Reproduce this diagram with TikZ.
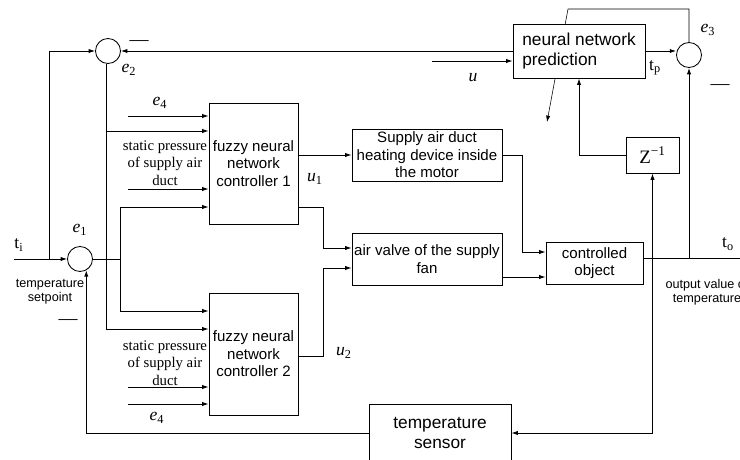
\documentclass[tikz,border=0pt]{standalone}
\usepackage{fontspec}
\setmainfont{Liberation Serif}
\newfontfamily\arialfont{Liberation Sans}
\usetikzlibrary{arrows.meta, positioning, backgrounds}

\begin{document}
\begin{tikzpicture}[x=0.025cm,y=-0.025cm,>={Latex[length=4.5pt,width=3pt]},line width=0.6pt,
  block/.style={draw,rectangle,fill=white,inner sep=0pt,align=center,
    font=\arialfont\fontsize{10.7}{12.4}\selectfont},
  bigblock/.style={block,font=\arialfont\fontsize{12.3}{14.6}\selectfont},
  sum/.style={draw,circle,fill=white,minimum size=0.625cm,inner sep=0pt},
  sig/.style={inner sep=0pt,font=\fontsize{12.5}{14}\selectfont},
  note/.style={align=center,inner sep=0pt,font=\fontsize{10.5}{12.45}\selectfont},
  small/.style={align=center,inner sep=0pt,font=\arialfont\fontsize{9}{10}\selectfont},
  minus/.style={inner sep=0pt,font=\fontsize{13.5}{14}\selectfont}]
\useasboundingbox (0,0) rectangle (740,459);

% define the summing points
  \node[sum] (e2) at (108,51) {};
  \node[sum] (e1) at (80,259) {};
  \node[sum] (e3) at (689,55) {};

% define the blocks
  \node[bigblock,align=left,minimum width=3.3cm,minimum height=1.35cm] (nnp) at (579,51)
{neural network\\prediction};
  \node[block,minimum width=2.225cm,minimum height=3.025cm] (fnc1) at (253.5,163.5)
{fuzzy neural\\network\\controller 1};
  \node[block,minimum width=2.225cm,minimum height=3.05cm] (fnc2) at (253.5,354)
{fuzzy neural\\network\\controller 2};
  \node[block,minimum width=3.75cm,minimum height=1.3cm] (heat) at (427,155)
{Supply air duct\\heating device inside\\the motor};
  \node[block,minimum width=3.75cm,minimum height=1.3cm] (valve) at (427,259)
{air valve of the supply\\fan};
  \node[block,minimum width=2.425cm,minimum height=1.05cm] (plant) at (594.5,263)
{controlled\\object};
  \node[draw,fill=white,minimum width=1.325cm,minimum height=0.9cm,font=\fontsize{13.5}{15}\selectfont] (zinv) at (652.5,155)
{Z\textsuperscript{−1}};
  \node[bigblock,minimum width=3.55cm,minimum height=1.45cm] (sensor) at (440,433)
{temperature\\sensor};

% free ends
  \coordinate (ti) at (14,259);
  \coordinate (tisplit) at (49,259);
  \coordinate (e1split) at (120,259);
  \coordinate (uin) at (432,61);
  \coordinate (out) at (745,258);
  \coordinate (adapttop) at (568,9);
  \coordinate (adaptend) at (547,122);
  \coordinate (e4a) at (128,116);
  \coordinate (spa) at (128,189);
  \coordinate (spb) at (128,387);
  \coordinate (e4b) at (128,404);

% define the links
  \draw[->] (ti) -- (e1.west);
  \draw[->] (tisplit) |- (e2.west);
  \draw[->] (nnp.west) -- (e2.east);
  \draw[->] (uin) -- (uin -| nnp.west);
  \draw[->] (nnp.east) -- (nnp.east -| e3.west);
  \draw[->] (e2.-99) |- (fnc2.west |- 0,329);
  \draw[->] (e2.-99 |- 0,131) -- (fnc1.west |- 0,131);
  \draw[->] (e1.east) -| (e1split |- 0,207) -- (fnc1.west |- 0,207);
  \draw[->] (e1split) |- (fnc2.west |- 0,311);
  \draw[->] (e4a) -- (e4a -| fnc1.west);
  \draw[->] (spa) -- (spa -| fnc1.west);
  \draw[->] (spb) -- (spb -| fnc2.west);
  \draw[->] (e4b) -- (e4b -| fnc2.west);
  \draw[->] (fnc1.east |- heat) -- (heat.west);
  \draw[->] (fnc1.east |- 0,207) -| (323,248) -- (valve.west |- 0,248);
  \draw[->] (fnc2.east |- 0,356) -| (323,268) -- (valve.west |- 0,268);
  \draw[->] (heat.east) -| (522,252) -- (plant.west |- 0,252);
  \draw[->] (valve.east |- 0,277) -- (plant.west |- 0,277);
  \draw (plant.east |- out) -- (out);
  \draw[->] (e3.south |- out) -- (e3.south);
  \draw[->] (zinv.south |- sensor.east) -- (zinv.south);
  \draw[->] (zinv.south |- sensor.east) -- (sensor.east);
  \draw[->] (zinv.west) -| (nnp.south);
  \draw[->] (sensor.west) -| (e1.-61);
  \begin{scope}[on background layer]
    \draw[->] (e3.north) |- (adapttop) -- (adaptend);
  \end{scope}

% define the labels
  \node[sig] (le2) at (129,70) {\textit{e}\textsubscript{2}};
  \node[sig] (le1) at (80,230) {\textit{e}\textsubscript{1}};
  \node[sig] (le3) at (708,30) {\textit{e}\textsubscript{3}};
  \node[sig] (le4a) at (160,103) {\textit{e}\textsubscript{4}};
  \node[sig] (le4b) at (157,418) {\textit{e}\textsubscript{4}};
  \node[sig] (lu) at (473,78) {\textit{u}};
  \node[sig] (lu1) at (315,179) {\textit{u}\textsubscript{1}};
  \node[sig] (lu2) at (344,353) {\textit{u}\textsubscript{2}};
  \node[sig] (lti) at (19,245) {t\textsubscript{i}};
  \node[sig] (ltp) at (655,68) {t\textsubscript{p}};
  \node[sig] (lto) at (728,244) {t\textsubscript{o}};
  \node[note] (sp1) at (165,163) {static pressure\\of supply air\\duct};
  \node[note] (sp2) at (165,363) {static pressure\\of supply air\\duct};
  \node[small] (setp) at (50,292) {temperature\\setpoint};
  \node[small] (outtxt) at (707,292) {output value of\\temperature};
  \node[minus] (m2) at (139,43) {—};
  \node[minus] (m1) at (68,322) {—};
  \node[minus] (m3) at (720,87) {—};

\end{tikzpicture}
\end{document}
